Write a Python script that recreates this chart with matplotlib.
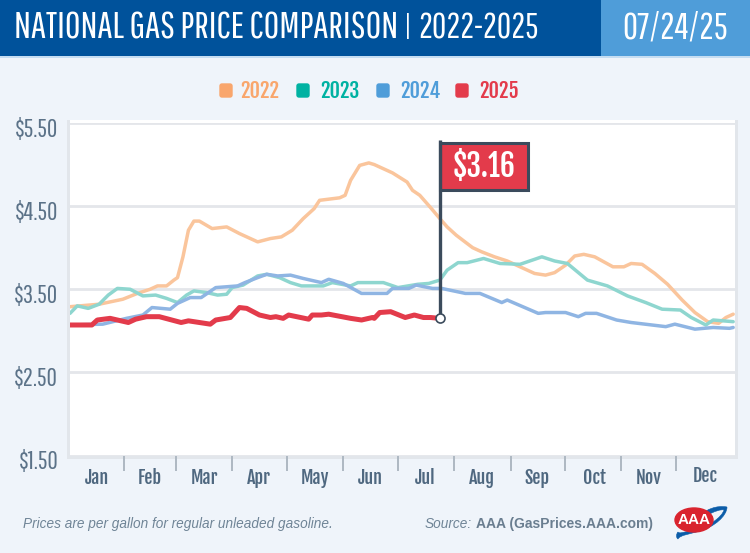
import matplotlib
matplotlib.use("Agg")
import matplotlib.pyplot as plt
from matplotlib.patches import Rectangle, Ellipse, FancyBboxPatch, PathPatch
from matplotlib.path import Path
from matplotlib.transforms import ScaledTranslation

W, H = 750, 553
BG = "#EFF4FA"
TITLE_FONT = ["Pathway Gothic One", "Bebas Neue", "DejaVu Sans"]
COND = ["Oswald", "DejaVu Sans"]
HEAVY = ["Fjalla One", "Oswald", "DejaVu Sans"]
THIN = ["Pathway Gothic One", "Oswald", "DejaVu Sans"]

days_2022 = [0,16,29,37,44,48,53,57,59,62,65,68,71,78,86,93,103,110,116,122,128,134,137,148,151,154,159,164,167,177,185,188,192,198,203,207,212,221,226,233,240,248,255,261,266,272,277,282,288,298,304,308,314,321,328,336,343,350,356,360,364]
vals_2022 = [3.29,3.32,3.38,3.45,3.50,3.54,3.54,3.61,3.64,3.89,4.21,4.32,4.32,4.23,4.25,4.17,4.07,4.11,4.13,4.21,4.35,4.47,4.57,4.60,4.63,4.81,4.99,5.02,5.00,4.90,4.79,4.69,4.63,4.48,4.35,4.25,4.15,4.00,3.95,3.89,3.84,3.76,3.69,3.67,3.70,3.79,3.90,3.92,3.89,3.77,3.77,3.81,3.80,3.69,3.56,3.37,3.22,3.11,3.09,3.16,3.20]
days_2023 = [0,4,10,16,21,26,33,40,47,53,59,64,68,75,81,86,89,95,103,108,115,121,127,139,144,154,158,166,172,180,191,197,203,207,213,218,227,236,247,259,266,273,284,295,306,316,325,335,341,349,353,364]
vals_2023 = [3.21,3.30,3.27,3.32,3.43,3.51,3.50,3.42,3.43,3.39,3.34,3.43,3.48,3.46,3.43,3.44,3.52,3.55,3.66,3.68,3.64,3.58,3.54,3.54,3.58,3.54,3.58,3.58,3.58,3.52,3.56,3.57,3.61,3.73,3.82,3.82,3.87,3.81,3.80,3.89,3.84,3.81,3.61,3.54,3.42,3.34,3.26,3.25,3.16,3.07,3.13,3.11]
days_2024 = [0,18,31,40,45,55,59,66,72,80,92,96,103,108,114,121,128,138,142,150,160,167,174,177,186,190,199,204,217,225,237,240,257,261,272,279,283,289,300,308,327,332,343,353,362,364]
vals_2024 = [3.07,3.08,3.15,3.19,3.28,3.26,3.33,3.40,3.40,3.52,3.54,3.58,3.64,3.68,3.66,3.67,3.63,3.58,3.62,3.57,3.45,3.45,3.45,3.51,3.51,3.55,3.51,3.51,3.45,3.45,3.34,3.37,3.21,3.22,3.22,3.17,3.21,3.21,3.13,3.10,3.05,3.08,3.02,3.04,3.03,3.04]
days_2025 = [0,12,15,22,32,36,42,49,61,65,77,80,88,93,97,104,110,113,117,120,131,133,138,142,154,160,166,167,170,176,184,189,194,198,203]
vals_2025 = [3.07,3.07,3.13,3.15,3.10,3.14,3.17,3.17,3.10,3.12,3.08,3.13,3.16,3.28,3.27,3.19,3.16,3.17,3.15,3.19,3.14,3.19,3.19,3.20,3.15,3.13,3.16,3.15,3.22,3.23,3.16,3.19,3.16,3.16,3.15]

years = ["2022", "2023", "2024", "2025"]
legend_colors = ["#F9A66C", "#00B2A2", "#4F9DD9", "#E33B4B"]
line_colors = ["#FAC59C", "#8ED6CF", "#8FB5E3", "#E33B4B"]
y_ticks = [1.50, 2.50, 3.50, 4.50, 5.50]
month_ticks = [29.6, 58, 88.9, 119.1, 149.8, 180, 210.8, 241.8, 271.7, 302.7, 332.6]
months = ["Jan","Feb","Mar","Apr","May","Jun","Jul","Aug","Sep","Oct","Nov","Dec"]
month_label_px = [97,150,204,259,315,370,425,482,537,594,649,705]
callout = "$3.16"

fig = plt.figure(figsize=(W/100, H/100), dpi=100, facecolor=BG)
bg = fig.add_axes([0, 0, 1, 1])
bg.set_xlim(0, W); bg.set_ylim(H, 0); bg.axis("off")

# header
bg.add_patch(Rectangle((0, 0), 601, 56, fc="#00529B", ec="none"))
bg.add_patch(Rectangle((601, 0), 149, 56, fc="#4F9DD9", ec="none"))
bg.add_patch(Rectangle((0, 56), W, 1.5, fc="#C5DDF2", ec="none"))
bg.text(14, 28, "NATIONAL GAS PRICE COMPARISON", color="white", fontsize=27.2, family=TITLE_FONT, va="center", ha="left")
bg.text(404, 28, "|", color="white", fontsize=24, family=THIN, va="center", ha="left")
bg.text(418, 28, "2022-2025", color="white", fontsize=25.2, family=TITLE_FONT, va="center", ha="left")
bg.text(675, 28, "07/24/25", color="white", fontsize=26.5, family=TITLE_FONT, va="center", ha="center")

# legend
for y, c, sx, tx in zip(years, legend_colors, [219, 296, 376, 455], [240, 320, 400, 479]):
    bg.add_patch(FancyBboxPatch((sx+1, 84), 12, 13, boxstyle="round,pad=0,rounding_size=2", fc=c, ec=c, lw=1))
    bg.text(tx, 90.5, y, color=c, fontsize=14.5, family=HEAVY, va="center", ha="left")

# panel frame
bg.add_patch(Rectangle((67, 120), 671, 339, fc="#E2E6EB", ec="none"))
bg.add_patch(Rectangle((70, 120), 665, 336, fc="white", ec="none"))

# axes
ax = fig.add_axes([70/W, 1-455.5/H, 665/W, 332.5/H], facecolor="none")
ax.set_xlim(0, 365); ax.set_ylim(1.5, 5.5)
ax.set_yticks(y_ticks)
ax.set_yticklabels([f"${v:.2f}" for v in y_ticks], family=THIN, fontsize=18.3, color="#5B7288")
ax.set_xticks(month_ticks)
ax.set_xticklabels([])
ax.tick_params(axis="x", length=11, width=1.4, color="#AEB8C2", pad=0, direction="out")
ax.tick_params(axis="y", length=0, pad=8.5)
label_shift = ScaledTranslation(0, -4/100, fig.dpi_scale_trans)
for lab in ax.get_yticklabels():
    lab.set_transform(lab.get_transform() + label_shift)
for s in ax.spines.values():
    s.set_visible(False)
ax.grid(axis="y", color="#E4E6EA", lw=2, zorder=1)
ax.set_axisbelow(True)

series = [(days_2022, vals_2022), (days_2023, vals_2023), (days_2024, vals_2024), (days_2025, vals_2025)]
for (d, v), c, lw in zip(series, line_colors, [2.5, 2.5, 2.5, 3.6]):
    ax.plot(d, v, color=c, lw=lw, solid_joinstyle="round", solid_capstyle="round", zorder=3)

for m, px in zip(months, month_label_px):
    bg.text(px, 478 if m != "Dec" else 476, m, family=HEAVY, fontsize=13, color="#4F6880", ha="center", va="center")

# flag
last_day, last_val = days_2025[-1], vals_2025[-1]
dark = "#3B4B5C"
ax.plot([last_day, last_day], [last_val, 5.29], color=dark, lw=2.4, zorder=5, solid_capstyle="butt")
ax.plot([last_day], [last_val], "o", ms=6.5, mfc="white", mec=dark, mew=1.2, zorder=6)
bg.add_patch(Rectangle((440, 143), 88, 47, fc="#E33B4B", ec=dark, lw=2.2, zorder=7))
bg.text(484, 167, callout, color="white", fontsize=21.3, family=HEAVY, ha="center", va="center", zorder=8)

# footer
bg.text(23, 524, "Prices are per gallon for regular unleaded gasoline.", style="italic", fontsize=9.8,
        family="Liberation Sans", color="#6F8496", va="center")
bg.text(425, 524, "Source:", style="italic", fontsize=9.8, family="Liberation Sans", color="#6F8496", va="center")
bg.text(476, 524, "AAA (GasPrices.AAA.com)", fontweight="bold", fontsize=10, family="Liberation Sans", color="#6A7E90", va="center")

# logo
swoosh = Path([(727, 507), (716, 505), (706, 510), (702, 514), (706, 516),
               (714, 511), (722, 509), (724, 510), (722, 517), (708, 528), (690, 531),
               (684, 532), (679, 534), (678, 532), (676, 534), (676, 538), (678, 539),
               (680, 535), (690, 534), (700, 531), (714, 527), (727, 516), (727, 507)],
              [1, 4, 4, 4, 2, 4, 4, 4, 4, 4, 4, 4, 4, 4, 4, 4, 4, 4, 4, 4, 4, 4, 4])
bg.add_patch(PathPatch(swoosh, fc="#0B5CA8", ec="#0B5CA8", lw=0.4, zorder=8))
bg.add_patch(Ellipse((694, 520), 38, 24, fc="#D9232E", ec="#D9232E", zorder=9))
bg.text(694, 520, "AAA", color="white", fontsize=11, fontweight="bold", family="Liberation Sans", ha="center", va="center", zorder=11)

fig.savefig("out.png", dpi=100, facecolor=BG)
